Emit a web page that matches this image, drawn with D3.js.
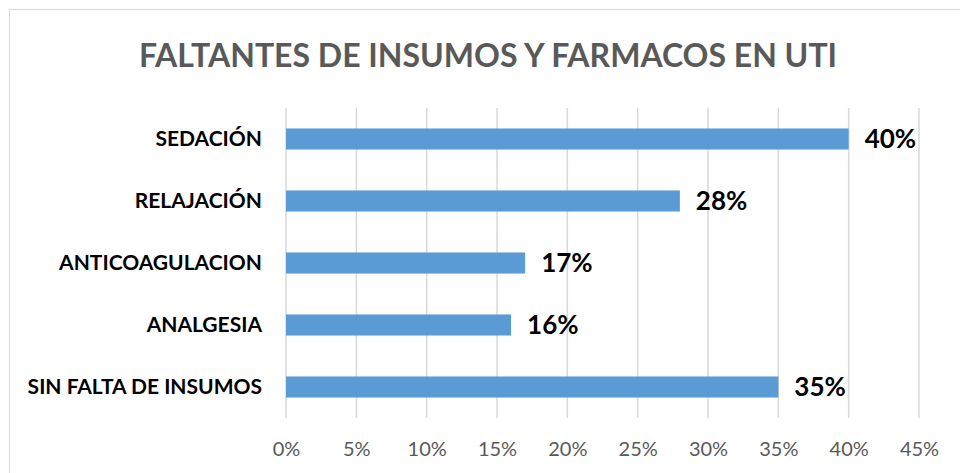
<!DOCTYPE html>
<html><head><meta charset="utf-8">
<script src="https://cdn.jsdelivr.net/npm/d3@7"></script>
<style>body{margin:0;background:#fff}svg{display:block}</style>
</head><body>
<script>
const title = "FALTANTES DE INSUMOS Y FARMACOS EN UTI";
const categories = ["SEDACIÓN","RELAJACIÓN","ANTICOAGULACION","ANALGESIA","SIN FALTA DE INSUMOS"];
const values = [0.40, 0.28, 0.17, 0.16, 0.35];
const tickValues = [0,0.05,0.10,0.15,0.20,0.25,0.30,0.35,0.40,0.45];

const W = 960, H = 473;
const font = "Lato, 'Open Sans', sans-serif";
const svg = d3.select("body").append("svg").attr("width", W).attr("height", H);
svg.append("rect").attr("width", W).attr("height", H).attr("fill", "#fff");
svg.append("rect").attr("x", 9.5).attr("y", 9.5).attr("width", 960).attr("height", 470)
  .attr("fill", "none").attr("stroke", "#d9d9d9").attr("stroke-width", 1);

const x = d3.scaleLinear().domain([0, 0.45]).range([286, 919]);
const y = d3.scaleBand().domain(categories).range([108, 418]).paddingInner(0.66).paddingOuter(0.33);

// grid
svg.append("g").selectAll("line").data(tickValues).join("line")
  .attr("x1", d => x(d)).attr("x2", d => x(d)).attr("y1", 108).attr("y2", 418)
  .attr("stroke", "#d9d9d9").attr("stroke-width", 1.5);

// x axis labels
const xAxis = d3.axisBottom(x).tickValues(tickValues).tickFormat(d3.format(".0%")).tickSize(0).tickPadding(0);
const gx = svg.append("g").attr("transform", "translate(0,442)").call(xAxis);
gx.select(".domain").remove();
gx.selectAll("text").attr("font-family", font).attr("font-size", 20).attr("fill", "#595959").attr("dy","0.71em");

// bars
svg.append("g").selectAll("rect").data(values).join("rect")
  .attr("x", x(0)).attr("y", (d,i) => y(categories[i]))
  .attr("width", d => x(d) - x(0)).attr("height", y.bandwidth())
  .attr("fill", "#5b9bd5");

// value labels
svg.append("g").selectAll("text").data(values).join("text")
  .attr("x", d => x(d) + 16).attr("y", (d,i) => y(categories[i]) + y.bandwidth()/2)
  .attr("dy", "0.36em").attr("font-family", font).attr("font-weight", "bold")
  .attr("font-size", 26).attr("fill", "#000").text(d => d3.format(".0%")(d));

// category axis
const yAxis = d3.axisLeft(y).tickSize(0).tickPadding(24);
const gy = svg.append("g").attr("transform", `translate(${x(0)},0)`).call(yAxis);
gy.select(".domain").remove();
gy.selectAll("text").attr("font-family", font).attr("font-weight", "bold").attr("font-size", 21).attr("fill", "#000");

// title
svg.append("text").attr("x", 488).attr("y", 55).attr("dy", "0.36em").attr("text-anchor", "middle")
  .attr("font-family", font).attr("font-weight", "bold").attr("font-size", 32).attr("fill", "#595959")
  .text(title);
</script>
</body></html>
